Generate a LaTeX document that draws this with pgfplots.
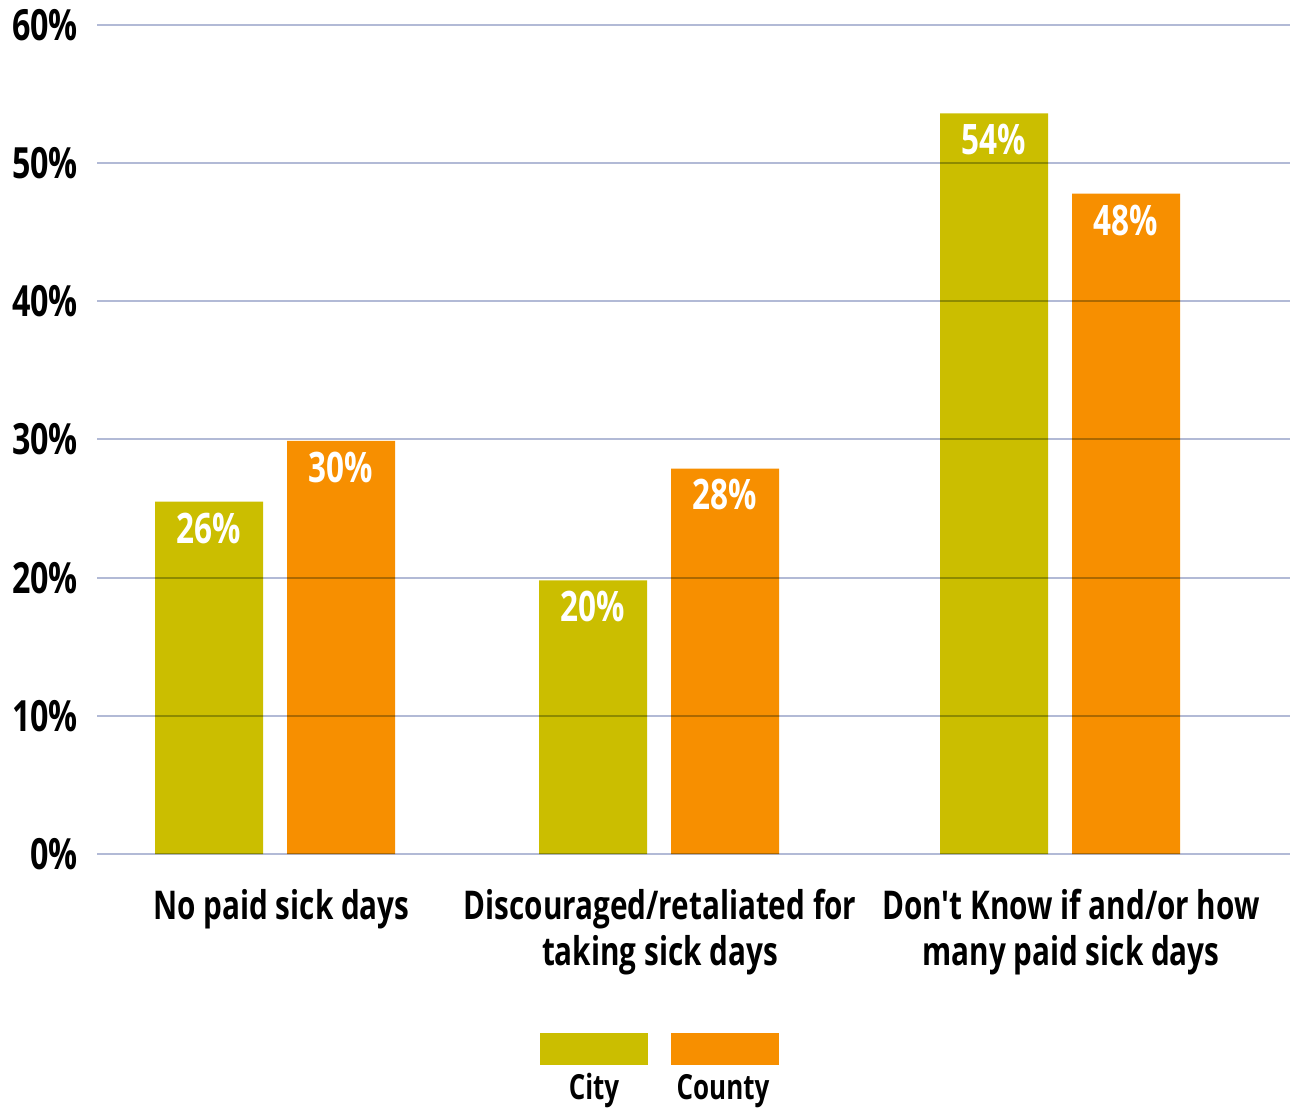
\documentclass[border=0pt]{standalone}
\usepackage{pgfplots}
\pgfplotsset{compat=1.18}
\usepackage{fontspec}
\setmainfont{Open Sans}[FakeStretch=0.75, Ligatures=TeXOff]
\definecolor{citycol}{RGB}{203,190,0}
\definecolor{countycol}{RGB}{247,143,0}
\definecolor{gridcol}{RGB}{178,186,214}
\begin{document}
\begin{tikzpicture}[x=0.5pt,y=0.5pt]
\begin{axis}[
  x=0.5pt,
  width=596.5pt, height=414.5pt,
  scale only axis,
  xmin=97, xmax=1290,
  ymin=0, ymax=60,
  ytick={0,10,20,30,40,50,60},
  yticklabels={0\%,10\%,20\%,30\%,40\%,50\%,60\%},
  xtick={281.5,660,1071},
  xticklabels={No paid sick days, Discouraged/retaliated for\\taking sick days, Don't Know if and/or how\\many paid sick days},
  major tick length=0pt,
  axis line style={draw=none},
  axis on top,
  ymajorgrids,
  major grid style={color=gridcol, line width=1pt, blend mode=multiply},
  yticklabel style={xshift=-6pt, font=\fontsize{21.5}{25}\selectfont\bfseries},
  xticklabel style={align=center, yshift=-14pt, font=\fontsize{19.8}{23}\selectfont\bfseries},
  /pgf/number format/assume math mode=true,
  ybar=0pt,
  bar width=108,
  bar shift=0pt,
  clip=false,
  point meta=explicit symbolic,
  nodes near coords,
  every node near coord/.append style={anchor=north, yshift=-2pt, text=white, font=\fontsize{21}{24}\selectfont\bfseries},
]
\addplot[draw=none, fill=citycol] coordinates {(209,25.5) [26\%] (593,19.8) [20\%] (994,53.6) [54\%]};
\addplot[draw=none, fill=countycol] coordinates {(341,29.9) [30\%] (725,27.9) [28\%] (1126,47.8) [48\%]};
% legend
\fill[citycol] (axis cs:540,-12.95) rectangle (axis cs:648,-15.27);
\fill[countycol] (axis cs:671,-12.95) rectangle (axis cs:779,-15.27);
\node[anchor=base, font=\fontsize{17.3}{20}\selectfont\bfseries] at (axis cs:594,-17.8) {City};
\node[anchor=base, font=\fontsize{17.3}{20}\selectfont\bfseries] at (axis cs:723,-17.8) {County};
\path (axis cs:0,61.81) (axis cs:1293,-18.52);
\end{axis}
\end{tikzpicture}
\end{document}
